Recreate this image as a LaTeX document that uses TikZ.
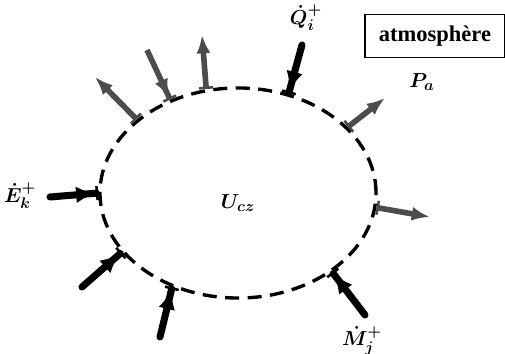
\documentclass[tikz,border=0pt]{standalone}
\usepackage{amsmath}
\usepackage{fontspec}
\setmainfont{Liberation Serif}
\usetikzlibrary{arrows.meta,shapes.geometric}

\begin{document}
\begin{tikzpicture}[
  x=0.025cm, y=0.025cm,
  zone/.style={ellipse, draw, line width=2.4pt, dash pattern=on 10pt off 6pt, minimum width=6.9cm, minimum height=5.25cm, inner sep=0pt},
  outflow/.style={{Bar[width=10pt,line width=1.8pt]}-{Latex[length=13pt,width=10pt]}, line width=4pt, color=black!70},
  inflow/.style={-{Latex[length=14pt,width=12pt]Bar[width=10pt,line width=1.8pt]}, line width=5pt, line cap=round},
  graybar/.style={-{Latex[length=13pt,width=10pt]Bar[width=10pt,line width=1.8pt]}, line width=4pt, color=black!70},
  lbl/.style={font=\fontsize{15}{18}\selectfont\boldmath},
  labelbox/.style={rectangle, draw, line width=1.2pt, minimum width=3.5cm, minimum height=1.08cm, font=\fontsize{16}{19}\selectfont\bfseries}
]
\useasboundingbox (0,0) rectangle (505,354);

\node[zone] (cz) at (238,161) {};
\node[lbl] (ucz) at (238,151) {$U_{cz}$};
\node[labelbox] (atm) at (435,318) {atmosph\`ere};
\node[lbl] (pa) at (422,272) {$P_a$};
\node[lbl] (qi) at (306,336) {$\dot{Q}_i^+$};
\node[lbl] (ek) at (20,158) {$\dot{E}_k^+$};
\node[lbl] (mj) at (362,13) {$\dot{M}_j^+$};

% free ends of the arrows
\coordinate (o1) at (95,277);
\coordinate (i2) at (147,304);
\coordinate (o3) at (202,319);
\coordinate (iq) at (302,309);
\coordinate (o5) at (385,256);
\coordinate (o6) at (430,137);
\coordinate (im) at (365,39);
\coordinate (ib) at (160,17);
\coordinate (il) at (82,67);
\coordinate (ie) at (50,157);

% going out
\draw[outflow] (cz.144) -- (o1);
\draw[outflow] (cz.107) -- (o3);
\draw[outflow] (cz.31) -- (o5);
\draw[outflow] (cz.-6) -- (o6);
% coming in
\draw[graybar] (i2) -- (cz.126);
\draw[inflow] (iq) -- (cz.63);
\draw[inflow] (im) -- (cz.-40);
\draw[inflow] (ib) -- (cz.-125);
\draw[inflow] (il) -- (cz.-153);
\draw[inflow] (ie) -- (cz.180);
\end{tikzpicture}
\end{document}
